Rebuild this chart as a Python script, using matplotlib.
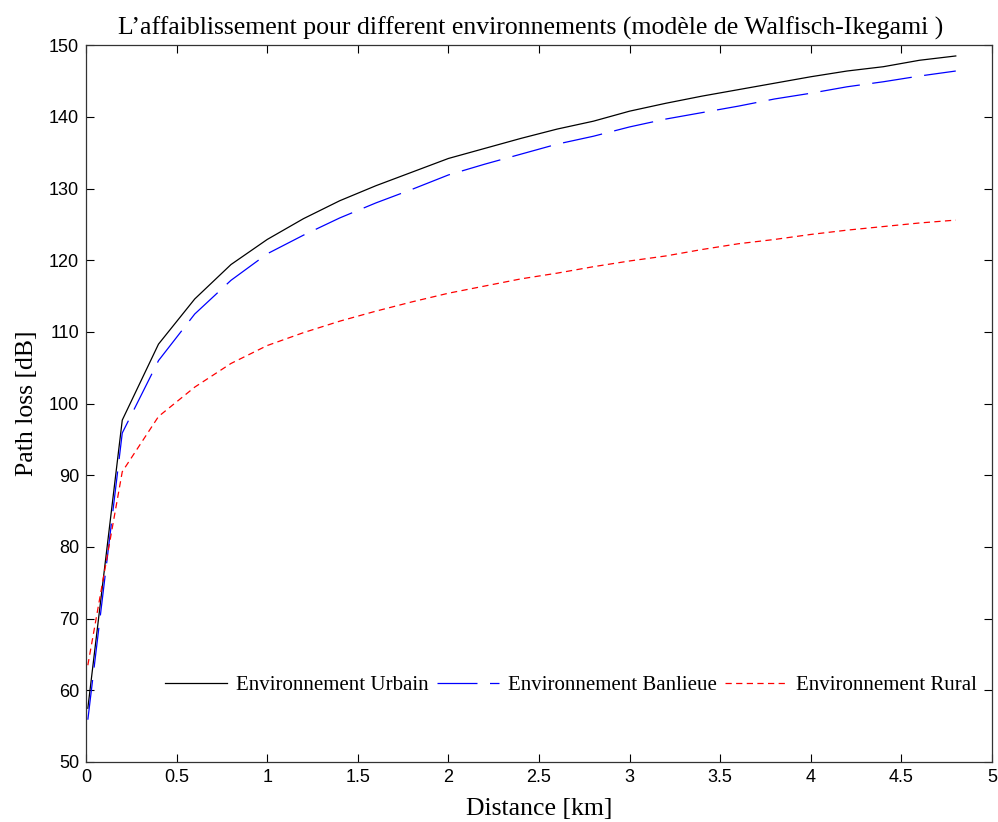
import numpy as np
import matplotlib
matplotlib.use("Agg")
import matplotlib.pyplot as plt

# distance [km]
distance = [0.01, 0.2, 0.4, 0.6, 0.8, 1.0, 1.2, 1.4, 1.6, 1.8, 2.0, 2.2, 2.4,
            2.6, 2.8, 3.0, 3.2, 3.4, 3.6, 3.8, 4.0, 4.2, 4.4, 4.6, 4.8]

# path loss [dB]
urbain = [57.5, 97.7, 108.3, 114.6, 119.4, 122.9, 125.8, 128.3, 130.4, 132.3,
          134.2, 135.6, 137.0, 138.3, 139.4, 140.8, 141.9, 142.9, 143.8, 144.7,
          145.6, 146.4, 147.0, 147.9, 148.5]
banlieue = [55.9, 95.9, 106.0, 112.5, 117.2, 120.9, 123.5, 125.9, 128.0, 129.9,
            131.9, 133.4, 134.8, 136.2, 137.3, 138.6, 139.7, 140.6, 141.5, 142.5,
            143.3, 144.2, 144.9, 145.7, 146.4]
rural = [63.5, 90.5, 98.2, 102.3, 105.6, 108.1, 109.9, 111.5, 112.9, 114.2,
         115.4, 116.4, 117.4, 118.2, 119.1, 119.9, 120.6, 121.5, 122.3, 122.9,
         123.6, 124.2, 124.7, 125.2, 125.6]

xticks = [0, 0.5, 1, 1.5, 2, 2.5, 3, 3.5, 4, 4.5, 5]
xtick_labels = ["0", "0.5", "1", "1.5", "2", "2.5", "3", "3.5", "4", "4.5", "5"]
yticks = [50, 60, 70, 80, 90, 100, 110, 120, 130, 140, 150]

serif = "Liberation Serif"

fig = plt.figure(figsize=(9.98, 8.22), dpi=100)
ax = fig.add_axes([0.0862, 0.073, 0.9078, 0.872])

ax.plot(distance, urbain, color="black", lw=0.9, label="Environnement Urbain")
ax.plot(distance, banlieue, color="blue", lw=0.9, dashes=(32, 10),
        label="Environnement Banlieue")
ax.plot(distance, rural, color="red", lw=0.9, dashes=(5, 3.5),
        label="Environnement Rural")

ax.set_xlim(0, 5)
ax.set_ylim(50, 150)
ax.set_xticks(xticks)
ax.set_xticklabels(xtick_labels)
ax.set_yticks(yticks)
ax.tick_params(direction="in", length=6, width=0.8, top=True, right=True,
               labelsize=13, pad=5)
for lab in ax.get_xticklabels() + ax.get_yticklabels():
    lab.set_family("Liberation Sans")
for sp in ax.spines.values():
    sp.set_linewidth(0.9)
    sp.set_color("#333333")

ax.set_title("L\u2019affaiblissement pour different environnements (modèle de Walfisch-Ikegami )",
             family=serif, fontsize=18.5, pad=8, x=0.491)
ax.set_xlabel("Distance [km]", family=serif, fontsize=18.5, labelpad=9)
ax.set_ylabel("Path loss [dB]", family=serif, fontsize=18.5, labelpad=8)

leg = ax.legend(loc="center", bbox_to_anchor=(0.535, 0.107), ncol=3,
                frameon=False, prop={"family": serif, "size": 15},
                handlelength=3.0, columnspacing=0.4, handletextpad=0.4)

fig.savefig("out.png", dpi=100)
